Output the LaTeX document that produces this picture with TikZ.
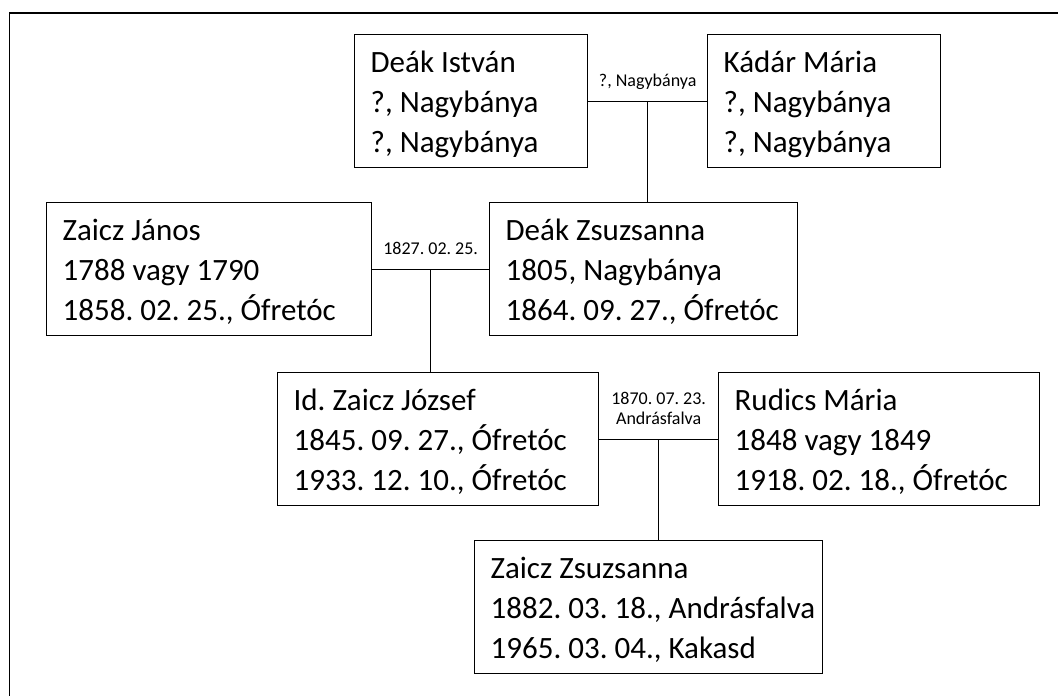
\documentclass[tikz,border=0pt]{standalone}
\usepackage{fontspec}
\setmainfont{Carlito}

\begin{document}
\begin{tikzpicture}[x=1pt,y=-1pt,line width=1.3pt]
        \tikzstyle{person}=[draw=black,anchor=north west,align=flush left,inner xsep=16pt,inner ysep=0pt,
                text height=38pt,text depth=95pt,font=\fontsize{31}{40}\selectfont\frenchspacing]
        \tikzstyle{wedding}=[anchor=south,align=center,inner sep=0pt,text depth=0pt,yshift=14pt,
                font=\fontsize{18}{20}\selectfont\frenchspacing]
        \useasboundingbox (0,0) rectangle (1058,696);
        \clip (0,0) rectangle (1058,696);
        \draw (9.5,13) rectangle (1080,720);

        \foreach \name/\x/\y/\tw/\la/\lb/\lc in {
                dist/354/34/201/Deák István/{?, Nagybánya}/{?, Nagybánya},
                kmar/707/34/201/Kádár Mária/{?, Nagybánya}/{?, Nagybánya},
                zjan/46/202/293/Zaicz János/1788 vagy 1790/{1858. 02. 25., Ófretóc},
                dzsu/489/202/276/Deák Zsuzsanna/{1805, Nagybánya}/{1864. 09. 27., Ófretóc},
                zjoz/277/372/289/Id. Zaicz József/{1845. 09. 27., Ófretóc}/{1933. 12. 10., Ófretóc},
                rmar/718/372/289/Rudics Mária/1848 vagy 1849/{1918. 02. 18., Ófretóc},
                zzsu/474/540/316/Zaicz Zsuzsanna/{1882. 03. 18., Andrásfalva}/{1965. 03. 04., Kakasd}}
                \node[person,text width=\tw pt] (P-\name) at (\x,\y) {\mbox{\la}\\\mbox{\lb}\\\mbox{\lc}};

        \foreach \a/\b/\c/\num in {dist/kmar/dzsu/1, zjan/dzsu/zjoz/2, zjoz/rmar/zzsu/3} {
                \draw (P-\a.east) -- coordinate[midway] (M-\num) (P-\b.west);
                \draw (M-\num) -- (M-\num |- P-\c.north);
        }

        \node[wedding] (W-1) at (M-1) {?, Nagybánya};
        \node[wedding] (W-2) at (M-2) {1827. 02. 25.};
        \node[wedding] (W-3) at (M-3) {1870. 07. 23.\\Andrásfalva};
\end{tikzpicture}
\end{document}
